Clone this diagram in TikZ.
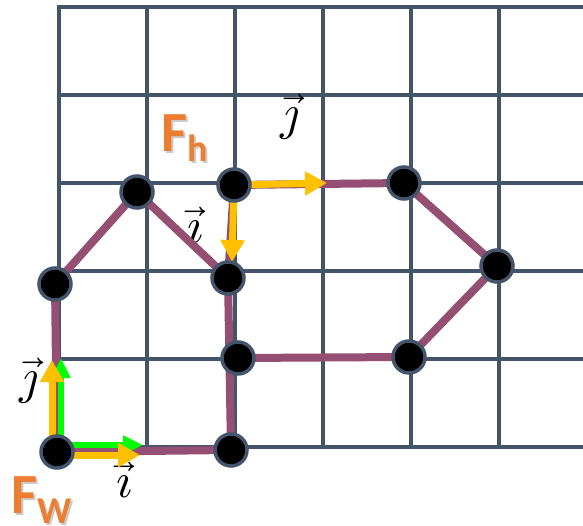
\documentclass[tikz,border=0pt]{standalone}
\usepackage{fontspec}
\usepackage{unicode-math}
\setmathfont{Latin Modern Math}
\newfontfamily\calibri{Carlito}
\usetikzlibrary{arrows.meta}
\definecolor{gridc}{HTML}{44546A}
\definecolor{edgec}{HTML}{954F72}
\definecolor{yell}{HTML}{FFC000}
\definecolor{grn}{HTML}{00FF00}
\definecolor{orng}{HTML}{ED7D31}
\newcommand\fsubtext[2]{{\fontsize{57}{60}\selectfont #1}\raisebox{-10bp}{\fontsize{38}{40}\selectfont #2}}
\pgfdeclarelayer{lgrid}
\pgfdeclarelayer{llabel}
\pgfdeclarelayer{ledge}
\pgfdeclarelayer{larrow}
\pgfsetlayers{lgrid,llabel,ledge,larrow,main}
\begin{document}
\begin{tikzpicture}[x=1bp,y=-1bp,
  gridline/.style={gridc, line width=4bp},
  edge/.style={edgec, line width=8bp},
  vtx/.style={circle, fill=black, draw=gridc, line width=3.5bp, minimum size=32bp, inner sep=0pt},
  yarrow/.style={yell, line width=7bp, -{Triangle[length=22bp,width=23bp]}},
  garrow/.style={grn, line width=6bp, -{Triangle[length=20bp,width=18bp]}},
  veclbl/.style={inner sep=0pt, font=\fontsize{50}{55}\selectfont},
  flabel/.style={orng, inner sep=0pt, anchor=base west, font=\calibri\bfseries},
  fshadow/.style={black!60, opacity=0.35, inner sep=0pt, anchor=base west, font=\calibri\bfseries}
]
\useasboundingbox (0,0) rectangle (583,526);
% vertices
\node[vtx] (A) at (57,452) {};
\node[vtx] (B) at (231,450) {};
\node[vtx] (C) at (55,284) {};
\node[vtx] (D) at (137,192) {};
\node[vtx] (E) at (234,185) {};
\node[vtx] (F) at (228,278) {};
\node[vtx] (G) at (238,358) {};
\node[vtx] (H) at (404,183) {};
\node[vtx] (I) at (497,266) {};
\node[vtx] (J) at (409,357) {};
% grid
\begin{pgfonlayer}{lgrid}
  \foreach \x in {59,147,235,323,411,499}
    \draw[gridline] (\x,5.5) -- (\x,449);
  \foreach \y in {7.5,95.5,183.5,271,359,447}
    \draw[gridline] (57,\y) -- (583,\y);
\end{pgfonlayer}
% labels
\begin{pgfonlayer}{llabel}
  \node[veclbl] (jA) at (29,381) {$\vec{\jmath}$};
  \node[veclbl] (iA) at (124,480) {$\vec{\imath}$};
  \node[veclbl] (iE) at (195,225) {$\vec{\imath}$};
  \node[veclbl] (jE) at (290,117) {$\vec{\jmath}$};
  \node[fshadow] (FhS) at (163,154) {\fsubtext{F}{h}};
  \node[flabel] (Fh) at (161,152) {\fsubtext{F}{h}};
  \node[fshadow] (FwS) at (13,515) {\fsubtext{F}{W}};
  \node[flabel] (Fw) at (11,513) {\fsubtext{F}{W}};
\end{pgfonlayer}
% edges
\begin{pgfonlayer}{ledge}
  \draw[edge] (A.center) -- (B.center);
  \draw[edge] (B.center) -- (F.center);
  \draw[edge] (F.center) -- (D.center);
  \draw[edge] (D.center) -- (C.center);
  \draw[edge] (C.center) -- (A.center);
  \draw[edge] (E.center) -- (F.center);
  \draw[edge] (E.center) -- (H.center);
  \draw[edge] (H.center) -- (I.center);
  \draw[edge] (I.center) -- (J.center);
  \draw[edge] (J.center) -- (G.center);
\end{pgfonlayer}
% arrows
\coordinate (tAgx) at (143,445);
\coordinate (tAgy) at (61,358);
\coordinate (tAyx) at (140,455);
\coordinate (tAyy) at (52,360);
\coordinate (tEx) at (327,183);
\coordinate (tEy) at (232,262);
\begin{pgfonlayer}{larrow}
  \draw[garrow] (A.center |- tAgx) -- (tAgx);
  \draw[garrow] (A.center -| tAgy) -- (tAgy);
  \draw[yarrow] (A.center |- tAyx) -- (tAyx);
  \draw[yarrow] (A.center -| tAyy) -- (tAyy);
  \draw[yarrow] (E.center) -- (tEx);
  \draw[yarrow] (E.center) -- (tEy);
\end{pgfonlayer}
\end{tikzpicture}
\end{document}
